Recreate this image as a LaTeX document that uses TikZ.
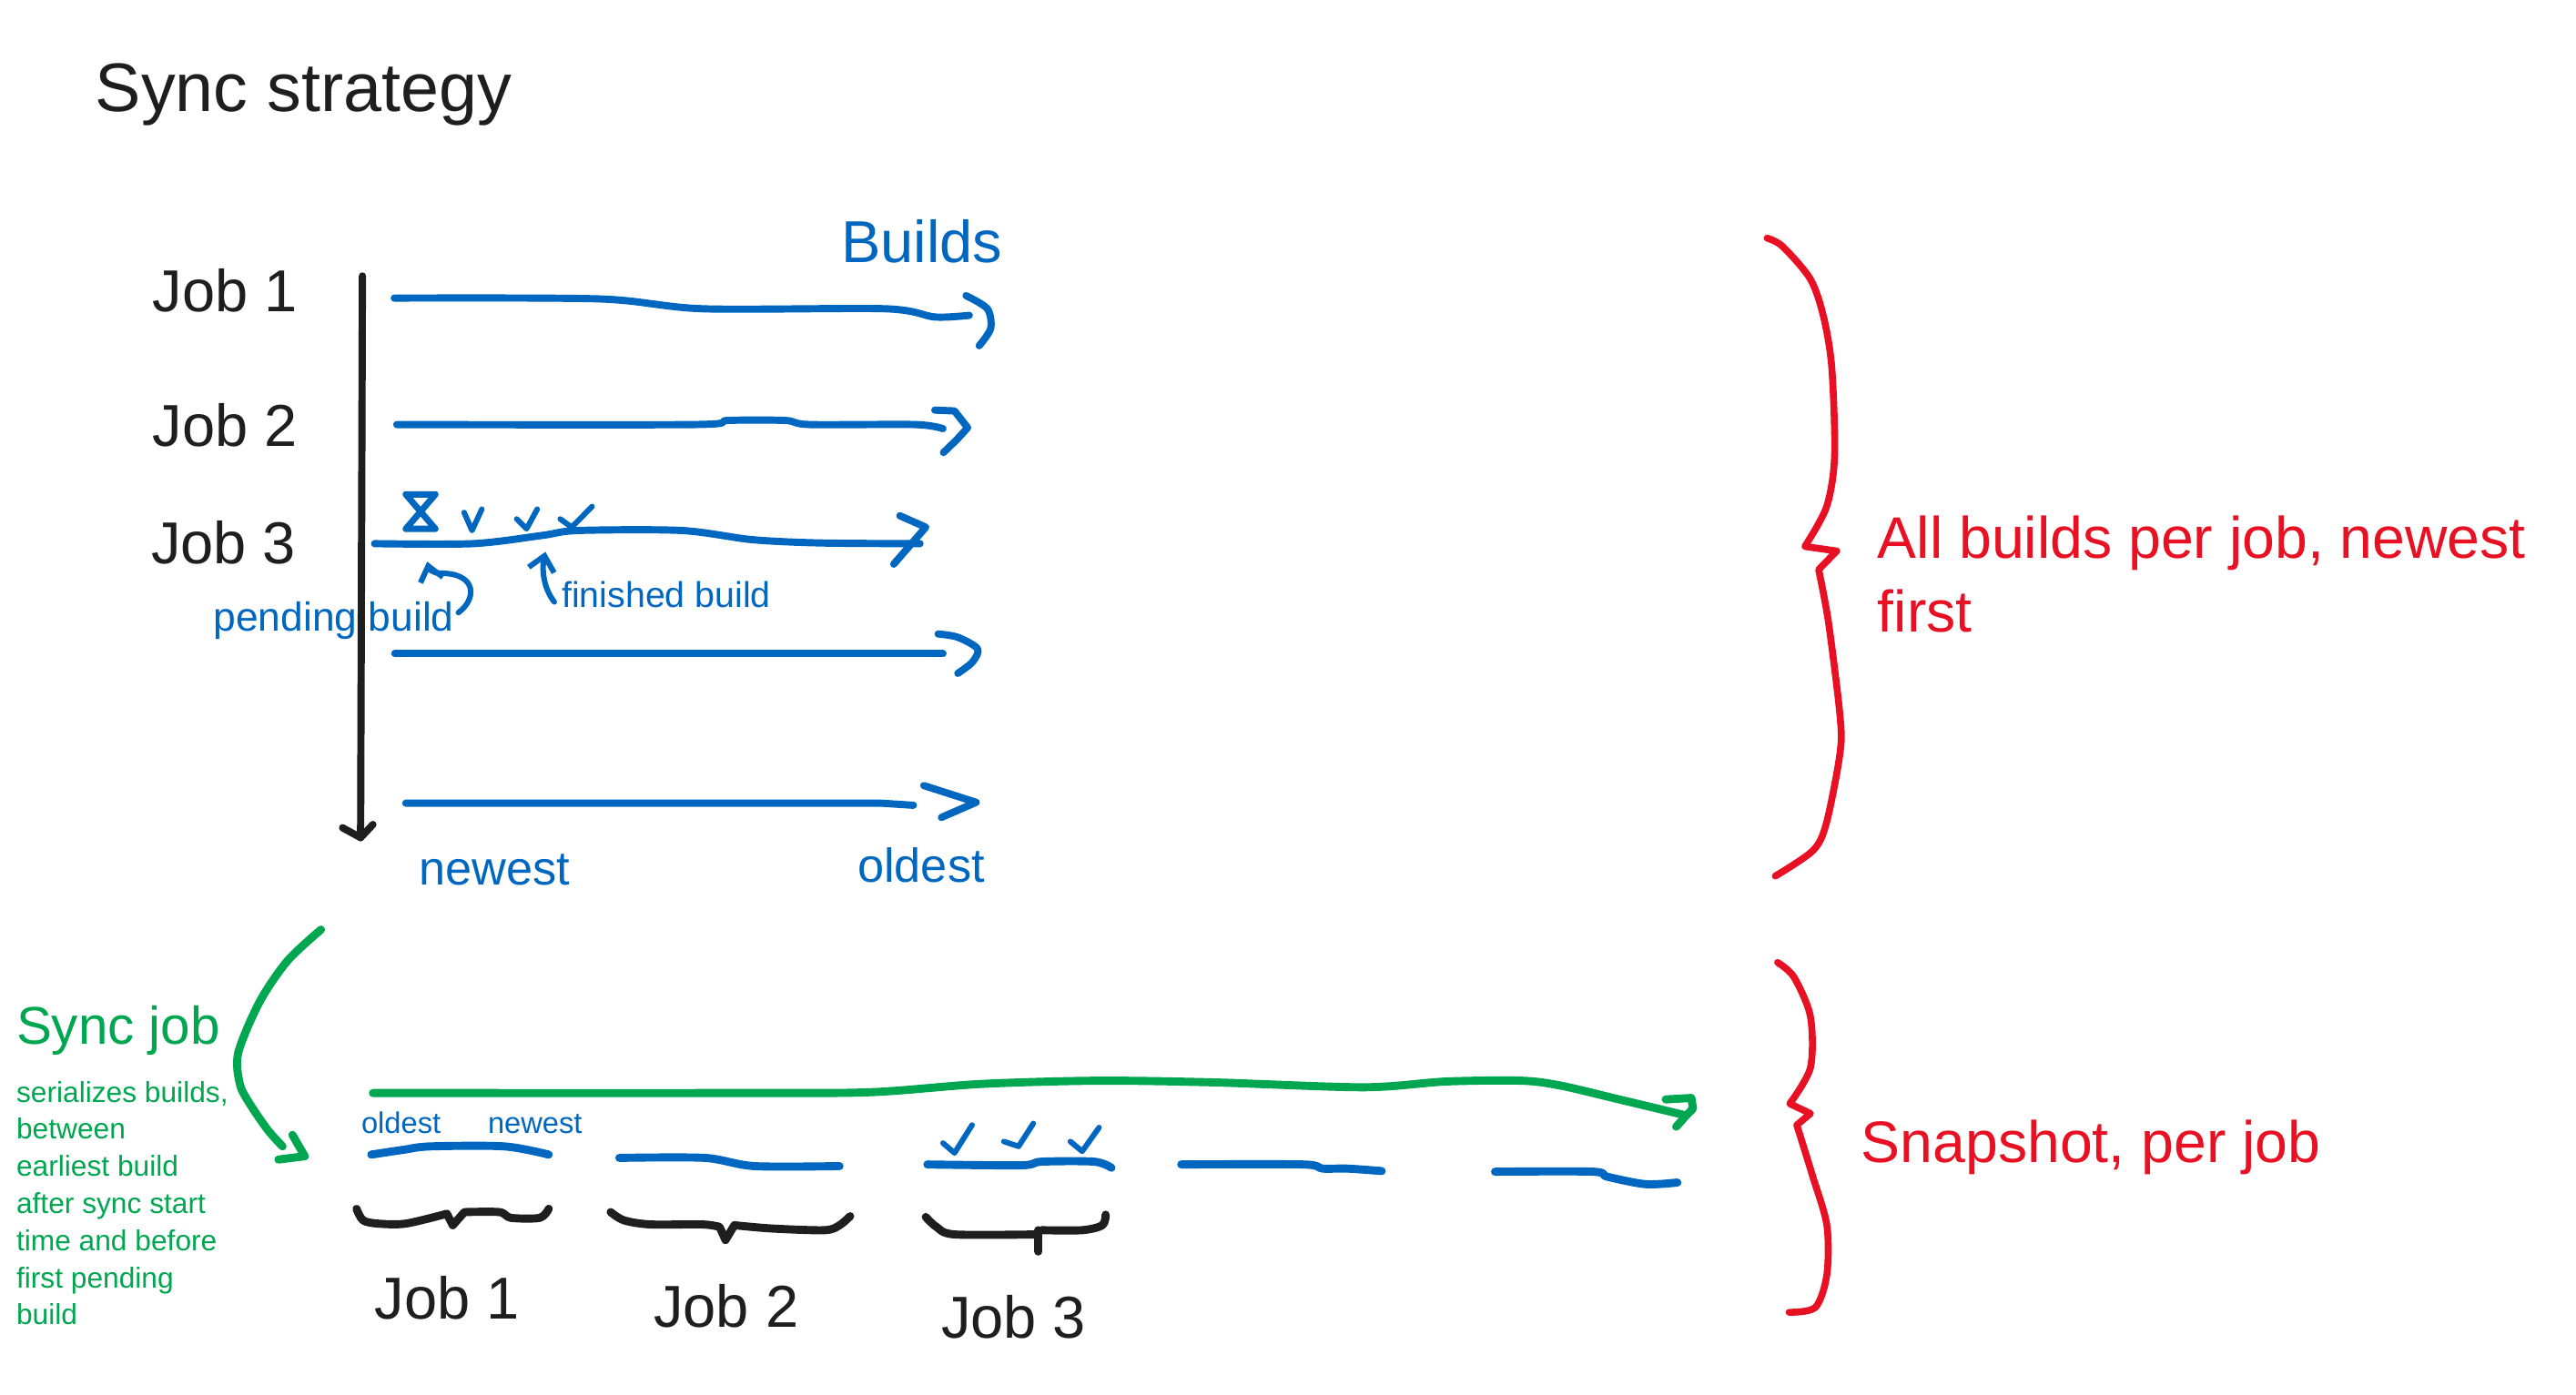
\documentclass[tikz,border=0pt]{standalone}
\usepackage{fontspec}
\setmainfont{Liberation Sans}
\usetikzlibrary{arrows.meta}
\definecolor{inkblue}{HTML}{0067C0}
\definecolor{inkred}{HTML}{E81123}
\definecolor{inkgreen}{HTML}{00A650}
\definecolor{inkblack}{HTML}{1E1E1E}
\begin{document}
\begin{tikzpicture}[x=0.02cm,y=-0.02cm,line cap=round,line join=round,
  lbl/.style={anchor=base west,inner sep=0pt,outer sep=0pt},
  big/.style={font=\fontsize{20.5}{24}\selectfont},
  blueline/.style={draw=inkblue,line width=2.5pt},
  bluethin/.style={draw=inkblue,line width=1.9pt},
  blackline/.style={draw=inkblack,line width=2.5pt},
  bracebk/.style={draw=inkblack,line width=2.8pt},
  redline/.style={draw=inkred,line width=2.4pt},
  greenline/.style={draw=inkgreen,line width=2.8pt},
  smoothy/.style={smooth,tension=0.5}]
\useasboundingbox[fill=white] (0,0) rectangle (1568,849);

% ---------- texts ----------
\node[lbl,text=inkblack,font=\fontsize{23.8}{28}\selectfont] (title) at (58,68) {Sync strategy};
\node[lbl,text=inkblue,big] (builds) at (512,160) {Builds};
\node[lbl,text=inkblack,big] (job1) at (93,190) {Job 1};
\node[lbl,text=inkblack,big] (job2) at (93,272) {Job 2};
\node[lbl,text=inkblack,big] (job3) at (92,343) {Job 3};
\node[lbl,text=inkblue,font=\fontsize{14}{17}\selectfont] (pend) at (130,384) {pending build};
\node[lbl,text=inkblue,font=\fontsize{12.4}{15}\selectfont] (fin) at (342,370) {finished build};
\node[lbl,text=inkblue,font=\fontsize{16.5}{20}\selectfont] (newest) at (255,539) {newest};
\node[lbl,text=inkblue,font=\fontsize{16.5}{20}\selectfont] (oldest) at (522,537) {oldest};
\node[lbl,text=inkred,font=\fontsize{20.3}{24}\selectfont] (allb) at (1143,340) {All builds per job, newest};
\node[lbl,text=inkred,font=\fontsize{20.3}{24}\selectfont] (allb2) at (1143,385) {first};
\node[lbl,text=inkred,font=\fontsize{20.3}{24}\selectfont] (snap) at (1133,708) {Snapshot, per job};
\node[lbl,text=inkgreen,font=\fontsize{18.4}{22}\selectfont] (syncjob) at (10,636) {Sync job};
\foreach \t [count=\i] in {{serializes builds,},between,earliest build,after sync start,time and before,first pending,build}
  \node[lbl,text=inkgreen,font=\fontsize{10}{12}\selectfont] (desc\i) at (10,{671+22.6*(\i-1)}) {\t};
\node[lbl,text=inkblue,font=\fontsize{10.3}{12}\selectfont] (sold) at (220,690) {oldest};
\node[lbl,text=inkblue,font=\fontsize{10.3}{12}\selectfont] (snew) at (297,690) {newest};
\node[lbl,text=inkblack,big] (bjob1) at (228,803) {Job 1};
\node[lbl,text=inkblack,big] (bjob2) at (398,808) {Job 2};
\node[lbl,text=inkblack,big] (bjob3) at (573,815) {Job 3};

% ---------- vertical axis ----------
\coordinate (axtop) at (220.6,168);
\coordinate (axbot) at (219.5,510);
\draw[blackline] (axtop) -- (axbot);
\draw[blackline] (208.5,504) -- (axbot) -- (227,502);

% ---------- timelines ----------
\draw[blueline] plot[smoothy] coordinates {(240,181.5) (365,182) (428,188) (539,188) (569,193) (590,192)};
\draw[blueline] plot[smoothy] coordinates {(588,180) (601,188) (603,200) (596,210.5)};

\draw[blueline] plot[smoothy] coordinates {(241.5,258.5) (422,258.5) (443,256) (478,256) (493,258.5) (557,258.5) (574,261)};
\draw[blueline] (569,249.7) -- (581,250.2) -- (589,260.4) -- (582.3,267.8) -- (574.3,275.5);

\draw[blueline] plot[smoothy] coordinates {(228,331) (288,331) (330,326) (352,323) (415,323) (458,328.6) (500,330.6) (560,331)};
\draw[blueline] (547.7,314) -- (563.5,321) -- (544,343.5);
\draw[draw=inkblue,line width=2.2pt] (247,301) -- (265,301) -- (247,322) -- (265,322) -- cycle;
\draw[bluethin] (282.5,312) -- (287.3,323) -- (293.3,310);
\draw[bluethin] (314.5,316) -- (320.5,322) -- (327,310);
\draw[bluethin] (341,316) -- (348,321) -- (360.4,308.4);

\draw[blueline] (240.3,398) -- (574,398);
\draw[blueline] plot[smoothy] coordinates {(571,386) (583,388) (595,395) (592,403) (583,410)};

\draw[blueline] (247,489) -- (536,489) -- (556,490.3);
\draw[blueline] (562.3,478.3) -- (594.2,488.5) -- (573,497.7);

% ---------- small annotation arrows ----------
\coordinate (pendstart) at (279,373);
\coordinate (pendtip) at (260,342);
\draw[bluethin,-{Straight Barb[length=5pt,width=8pt]}] (pendstart) .. controls (290,365) and (291,349) .. (268,349) .. controls (263,349) and (261,346) .. (pendtip);
\coordinate (finstart) at (337.4,366.5);
\coordinate (fintip) at (332,336);
\draw[bluethin,-{Straight Barb[length=5pt,width=9pt]}] (finstart) .. controls (330,357) and (330,345) .. (fintip);

% ---------- red braces ----------
\draw[redline] plot[smoothy] coordinates {(1075.6,145) (1085,150) (1102,170) (1110,193) (1115,224) (1116.7,277.6) (1111.8,308.6) (1098.6,332.7)}
  -- (1118,335.5) -- plot[smoothy] coordinates {(1107,346.8) (1113,379) (1120,435.8) (1120,458.5) (1111.8,500.8) (1103.6,517.8) (1080.6,533.4)};
\draw[redline] plot[smoothy] coordinates {(1082,586) (1092,595) (1102,619) (1102,650) (1089.4,672)}
  -- (1102,678) -- plot[smoothy] coordinates {(1093.7,685) (1103,715) (1112,746) (1112,776) (1105,796) (1089,799)};

% ---------- green arrows ----------
\draw[greenline] plot[smoothy] coordinates {(195.4,566) (175,585) (158,610) (145,641) (146,660) (152,672) (163,688) (172,698)};
\draw[greenline] (178,691) -- (185.5,704) -- (169.5,706);
\draw[greenline] plot[smoothy] coordinates {(227,665.5) (450,665.5) (530,665) (597,660) (668,658) (738,659) (830,662) (880,658.5) (926,658) (950,661) (986,669.5) (1024,678.6)};
\draw[greenline] (1013.9,669.4) -- (1029.5,668.5) -- (1030.5,675) -- (1026,679.6) -- (1020.3,686);

% ---------- snapshot segments ----------
\begin{scope}[line width=2.8pt,draw=inkblue]
\draw[draw=inkblue] plot[smoothy] coordinates {(226,703) (246,700) (262,698) (307,698) (334,703)};
\draw[draw=inkblue] plot[smoothy] coordinates {(377,705) (429,705) (459,710) (511,710)};
\draw[draw=inkblue] plot[smoothy] coordinates {(564.5,709) (621.6,709.5) (634,707.3) (666,707.3) (676.5,711)};
\draw[draw=inkblue] plot[smoothy] coordinates {(719,709) (793,709) (805,711.5) (820,711.5) (841,713)};
\draw[draw=inkblue] plot[smoothy] coordinates {(910,713.4) (969.5,713.4) (978.5,716.5) (1001.6,721) (1021,720)};
\end{scope}
\draw[bluethin] (574,696) -- (581,702) -- (591.7,685);
\draw[bluethin] (611,695) -- (620,698) -- (629,684);
\draw[bluethin] (651.5,695) -- (658.7,701) -- (669,686.5);

% ---------- black braces ----------
\draw[bracebk] plot[smoothy] coordinates {(217,736) (221,743) (230,745) (247,745) (272,739)} -- (275.6,746) -- plot[smoothy] coordinates {(282.7,738) (304,738) (311,741.5) (328.6,741.5) (334,736)};
\draw[bracebk] plot[smoothy] coordinates {(371.7,738) (379.8,743) (395.7,745.5) (427.5,745.5) (438,747)} -- (441.6,755) -- plot[smoothy] coordinates {(447,746) (470,748) (502,749) (511,746) (517.5,740.5)};
\draw[bracebk] plot[smoothy] coordinates {(563.5,741) (570,747) (581,751.6) (630.5,751.6)};
\draw[bracebk] (632,749) -- (632,762);
\draw[bracebk] plot[smoothy] coordinates {(634,749) (658.7,749) (671,746) (673,739.6)};
\end{tikzpicture}
\end{document}
